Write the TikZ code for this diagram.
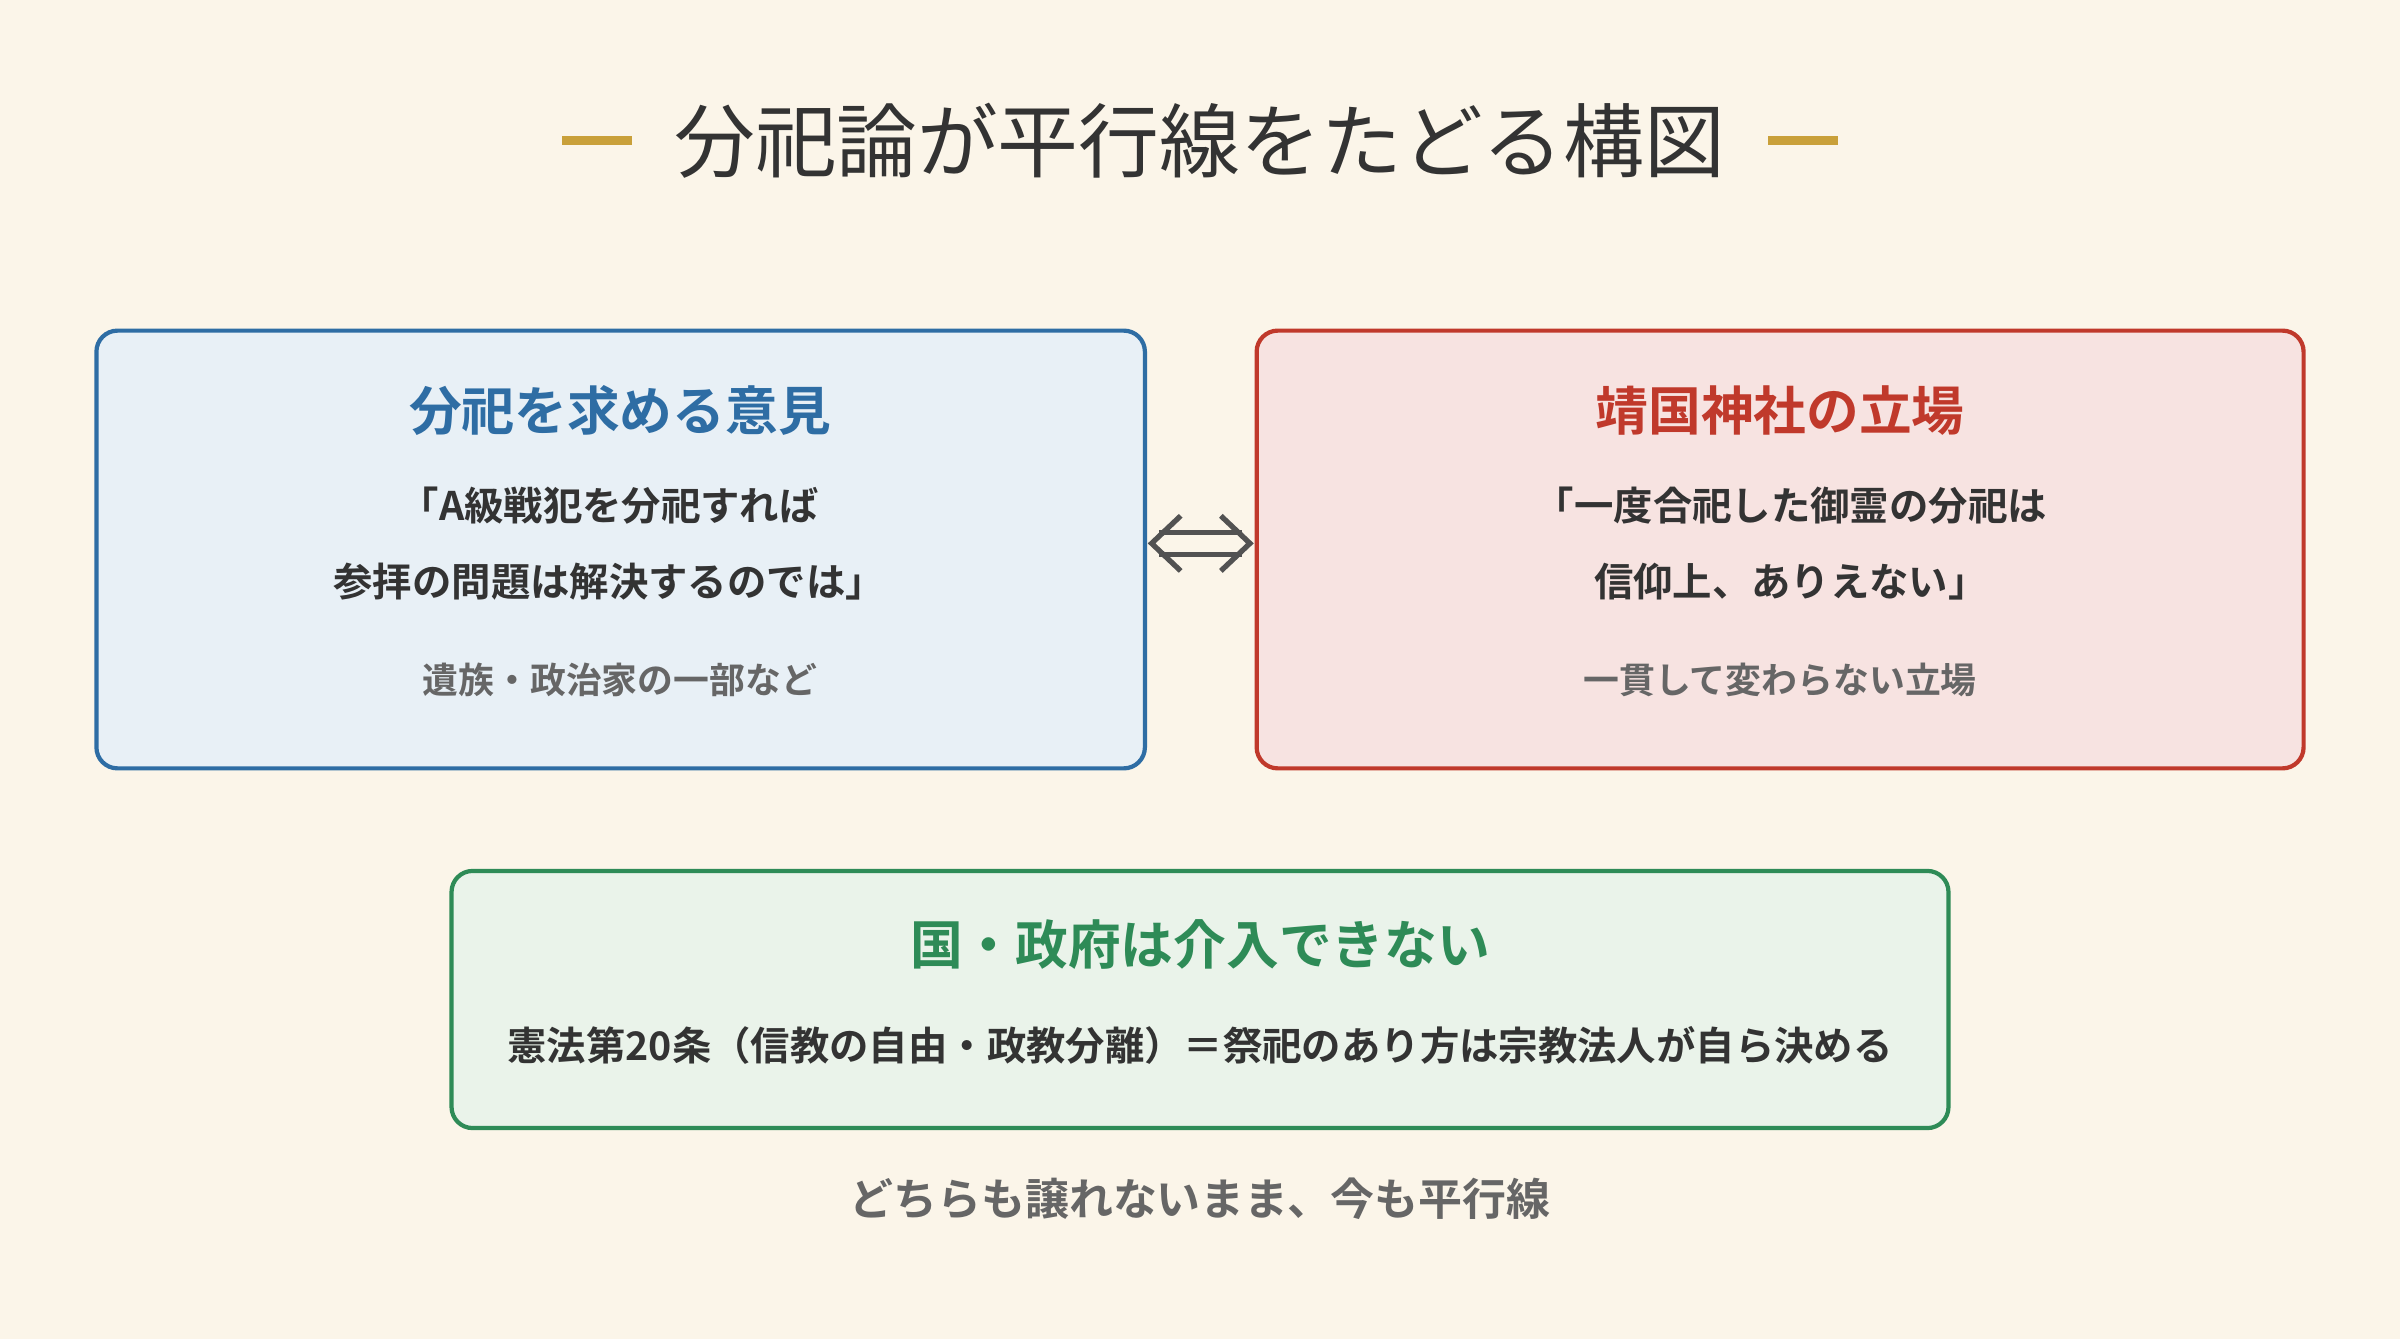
\documentclass[tikz,border=0pt]{standalone}
\usepackage{fontspec}
\setmainfont{Noto Sans CJK JP}
\newfontfamily\jpbold{Noto Sans CJK JP}[BoldFont={* Bold}]
\usetikzlibrary{arrows.meta,positioning}
\definecolor{bgcream}{HTML}{FBF5E9}
\definecolor{goldbar}{HTML}{C9A03A}
\definecolor{blueline}{HTML}{2E6DA4}
\definecolor{bluefill}{HTML}{E8F0F6}
\definecolor{redline}{HTML}{C0392B}
\definecolor{redfill}{HTML}{F7E3E1}
\definecolor{greenline}{HTML}{2E8B57}
\definecolor{greenfill}{HTML}{EAF3EA}
\definecolor{darktext}{HTML}{333333}
\definecolor{graytext}{HTML}{666666}
\begin{document}
\begin{tikzpicture}[x=0.01531cm, y=-0.01531cm,
    panel/.style={draw, line width=1.2pt, rounded corners=6pt, inner sep=0pt},
    head/.style={font=\jpbold\bfseries\fontsize{15}{18}\selectfont},
    quote/.style={font=\jpbold\bfseries\fontsize{11.2}{21.5}\selectfont, text=darktext, align=center},
    note/.style={font=\jpbold\bfseries\fontsize{10.2}{12}\selectfont, text=graytext},
    arrowline/.style={draw=graytext!80!black, line width=1.5pt}]
    % background
    \fill [bgcream] (0,0) rectangle (1568,875);
    \useasboundingbox (0,0) rectangle (1568,875);

    % title
    \node (title) at (784,92) {\fontsize{23}{27}\selectfont\color{darktext}分祀論が平行線をたどる構図};
    \fill [goldbar] (367,89) rectangle (413,95);
    \fill [goldbar] (1155,89) rectangle (1201,95);

    % panels
    \node [panel, draw=blueline, fill=bluefill, minimum width=685*0.01531cm, minimum height=286*0.01531cm] (left) at (405.5,359) {};
    \node [panel, draw=redline, fill=redfill, minimum width=684*0.01531cm, minimum height=286*0.01531cm] (right) at (1163,359) {};
    \node [panel, draw=greenline, fill=greenfill, minimum width=978*0.01531cm, minimum height=168*0.01531cm] (state) at (784,653) {};

    % texts
    \node [head, text=blueline] (lhead) at (405,268) {分祀を求める意見};
    \node [quote] (lquote) at (398,355) {「A級戦犯を分祀すれば\\参拝の問題は解決するのでは」};
    \node [note] (lnote) at (405,444) {遺族・政治家の一部など};
    \node [head, text=redline] (rhead) at (1163,268) {靖国神社の立場};
    \node [quote] (rquote) at (1170,355) {「一度合祀した御霊の分祀は\\信仰上、ありえない」};
    \node [note] (rnote) at (1163,444) {一貫して変わらない立場};
    \node [head, text=greenline] (shead) at (784,617) {国・政府は介入できない};
    \node [quote] (squote) at (784,683) {憲法第20条（信教の自由・政教分離）＝祭祀のあり方は宗教法人が自ら決める};
    \node [font=\jpbold\bfseries\fontsize{12.5}{15}\selectfont, text=graytext] (footer) at (784,783) {どちらも譲れないまま、今も平行線};

    % arrow
    \draw [arrowline, double=bgcream, double distance=5pt, line width=1.4pt]
          ([shift={(8,-4)}]left.east) -- ([shift={(-8,-4)}]right.west);
    \draw [arrowline, line join=miter] ([shift={(22,-22)}]left.east) -- ([shift={(3,-4)}]left.east) -- ([shift={(22,14)}]left.east);
    \draw [arrowline, line join=miter] ([shift={(-22,-22)}]right.west) -- ([shift={(-3,-4)}]right.west) -- ([shift={(-22,14)}]right.west);
\end{tikzpicture}
\end{document}
